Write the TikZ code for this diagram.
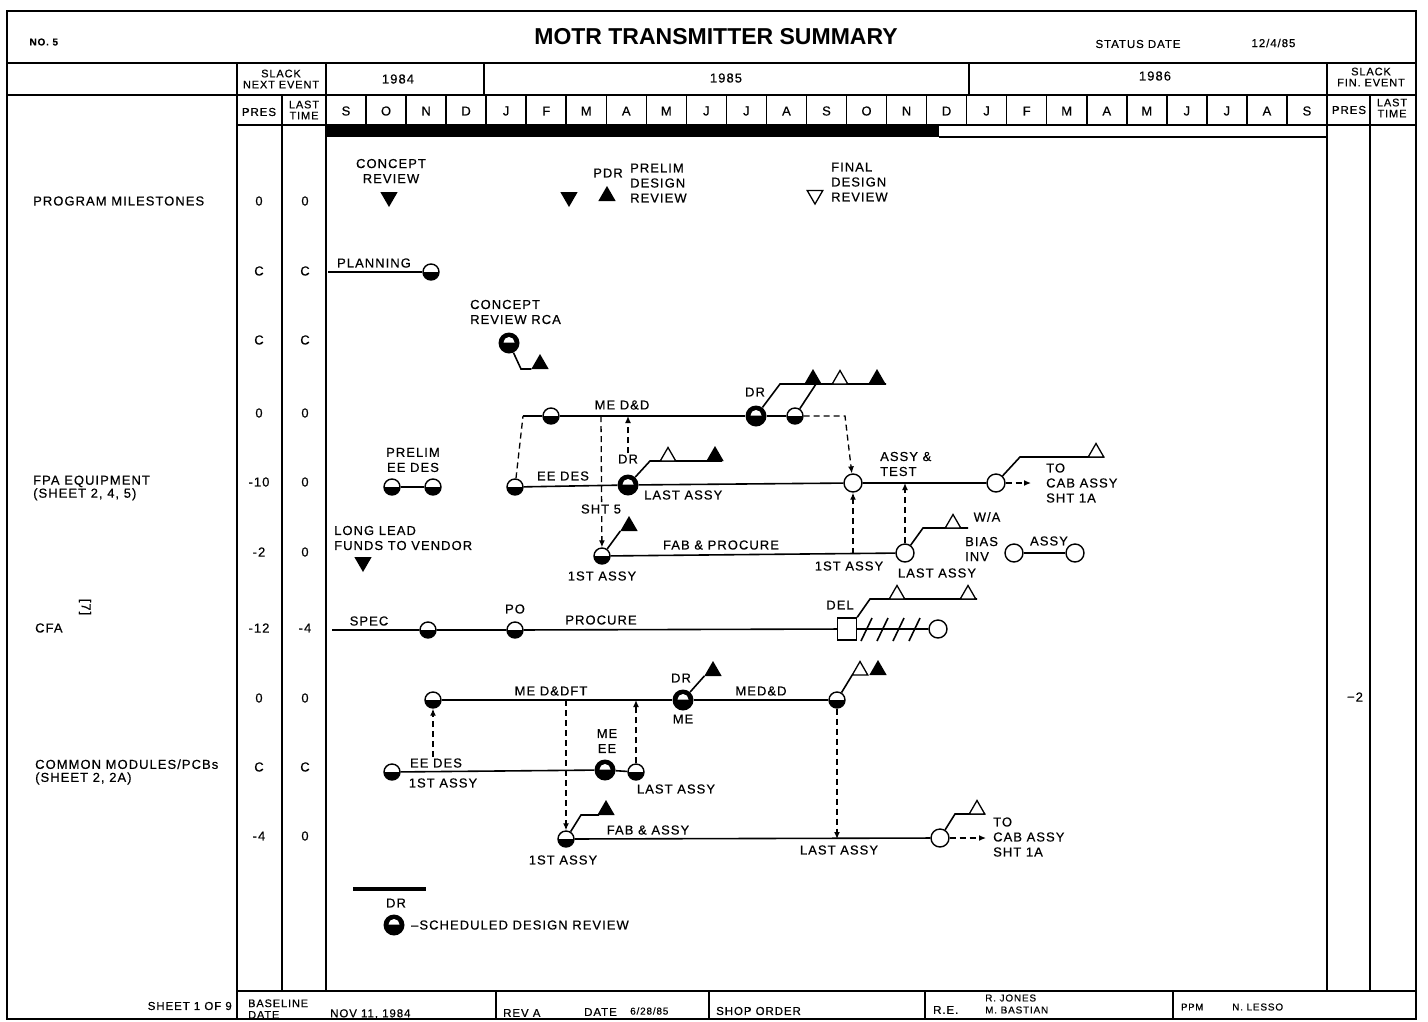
\documentclass[tikz,border=0pt]{standalone}
\usepackage{fontspec}
\setmainfont{Liberation Sans}[LetterSpace=8,FakeBold=0.5]
\newfontfamily\titlefont{Liberation Sans}
\usetikzlibrary{arrows.meta, shapes.geometric, positioning}
\newcommand\lbl{\fontsize{13}{15}\selectfont}
\newcommand\sml{\fontsize{11.5}{12.5}\selectfont}
\newcommand\hdr{\fontsize{11}{11}\selectfont}
\tikzset{
  % milestone symbols
  ms/.style={circle,draw,line width=1.4pt,fill=white,minimum size=16pt,inner sep=0pt,
    path picture={\fill[black] (path picture bounding box.west) rectangle (path picture bounding box.south east);}},
  evt/.style={circle,draw,line width=1.4pt,fill=white,minimum size=18pt,inner sep=0pt},
  dr/.style={circle,fill=black,minimum size=21pt,inner sep=0pt,
    path picture={\fill[white] ([xshift=-5.5pt,yshift=0.5pt]path picture bounding box.center)
      arc[start angle=180,end angle=0,radius=5.5pt] -- cycle;}},
  tri/.style={regular polygon,regular polygon sides=3,fill=black,minimum size=20pt,inner sep=0pt,outer sep=0pt},
  otri/.style={tri,draw,line width=1.3pt,fill=white,minimum size=18pt},
  dtri/.style={tri,shape border rotate=180},
  odtri/.style={otri,shape border rotate=180},
  sq/.style={draw,line width=1.4pt,fill=white,minimum width=19pt,minimum height=22pt,inner sep=0pt},
  % connectors
  link/.style={line width=1.6pt},
  dsh/.style={line width=1.3pt,dash pattern=on 6pt off 4pt},
  dep/.style={dsh,-{Latex[length=7pt,width=6pt]}},
  frame/.style={line width=1.5pt},
  lab/.style={inner sep=1pt},
  foot/.style={font=\sml,inner sep=1pt,anchor=west}
}

\begin{document}
\begin{tikzpicture}[x=1pt,y=-1pt,font=\lbl]
  \useasboundingbox (0,0) rectangle (1428,1021);

  % form
  \draw[frame] (7,11) rectangle (1416,1019);
  \draw[frame] (7,63) -- (1416,63);
  \draw[frame] (7,95) -- (1416,95);
  \draw[frame] (237,125) -- (1416,125);
  \draw[frame] (237,63) -- (237,1019);
  \draw[frame] (282,95) -- (282,991);
  \draw[frame] (326,63) -- (326,991);
  \draw[frame] (1327,63) -- (1327,991);
  \draw[frame] (1370,95) -- (1370,991);
  \draw[frame] (484,63) -- (484,95);
  \draw[frame] (969,63) -- (969,95);
  \foreach \i in {1,...,24}
    \draw[frame] ({326+40.04*\i},95) -- ({326+40.04*\i},125);
  \fill (326,125) rectangle (939,137);
  \draw[frame] (939,137) -- (1327,137);
  \draw[frame] (237,991) -- (1416,991);
  \foreach \x in {496,709,925,1173}
    \draw[frame] (\x,991) -- (\x,1019);

  % heading
  \node[anchor=west,font=\bfseries\fontsize{10}{11}\selectfont] (no) at (26,42) {NO. 5};
  \node[font=\titlefont\bfseries\fontsize{23}{25}\selectfont] (ttl) at (716,37) {MOTR TRANSMITTER SUMMARY};
  \node[anchor=west,font=\sml] (sdl) at (1092,44) {STATUS DATE};
  \node[anchor=west,font=\sml] (sdv) at (1248,43) {12/4/85};
  \node[lab,font=\hdr,align=center] (sne) at (281,79) {SLACK\\NEXT EVENT};
  \node[lab,font=\sml] (pres) at (259,112) {PRES};
  \node[lab,font=\hdr,align=center] (last) at (304,110) {LAST\\TIME};
  \node[lab,font=\hdr,align=center] (sfe) at (1371,77) {SLACK\\FIN. EVENT};
  \node[lab,font=\sml] (pres2) at (1349,110) {PRES};
  \node[lab,font=\hdr,align=center] (last2) at (1392,108) {LAST\\TIME};
  \node[lab] (y84) at (398,79) {1984};
  \node[lab] (y85) at (726,78) {1985};
  \node[lab] (y86) at (1155,76) {1986};
  \foreach \m [count=\i from 0] in {S,O,N,D,J,F,M,A,M,J,J,A,S,O,N,D,J,F,M,A,M,J,J,A,S}
    \node[lab] (m\i) at ({346+40.04*\i},111) {\m};

  % rows
  \node[lab,anchor=west] (pm) at (32,201) {PROGRAM MILESTONES};
  \node[lab,anchor=west,align=left] (fpa) at (32,488) {FPA EQUIPMENT\\[-2pt](SHEET 2, 4, 5)};
  \node[lab,anchor=west] (cfa) at (34,628) {CFA};
  \node[font=\lbl,rotate=-90] (cfam) at (85,607) {[7]};
  \node[lab,anchor=west,align=left] (cmp) at (34,772) {COMMON MODULES/PCBs\\[-2pt](SHEET 2, 2A)};
  \foreach \y/\p/\l [count=\k] in {201/0/0,271/C/C,340/C/C,413/0/0,482/-10/0,
      552/-2/0,628/-12/-4,698/0/0,767/C/C,836/-4/0} {
    \node[lab] (pr\k) at (259,\y) {\p};
    \node[lab] (lt\k) at (305,\y) {\l};
  }
  \node[lab] (fin) at (1355,697) {−2};

  % program milestones
  \node[dtri] (cr) at (389,197) {};
  \node[lab,align=center] (crl) at (391,171) {CONCEPT\\REVIEW};
  \node[dtri] (pdr1) at (569,197) {};
  \node[tri] (pdr2) at (607,196) {};
  \node[lab] (pdrl) at (608,173) {PDR};
  \node[lab,anchor=west,align=left] (pdrt) at (629,183) {PRELIM\\DESIGN\\REVIEW};
  \node[odtri] (fdr) at (815,195) {};
  \node[lab,anchor=west,align=left] (fdrt) at (830,182) {FINAL\\DESIGN\\REVIEW};

  % planning
  \coordinate (pl0) at (328,272);
  \node[ms] (pl) at (431,272) {};
  \draw[link] (pl0) -- (pl);
  \node[lab] (pll) at (374,263) {PLANNING};

  % concept review rca
  \node[dr] (crr) at (509,343) {};
  \node[tri,anchor=side 2] (crrt) at (540,369) {};
  \draw[link] (crr) -- (521,369) -- (crrt.corner 2);
  \node[lab,anchor=west,align=left] (crrl) at (469,312) {CONCEPT\\REVIEW RCA};

  % fpa equipment
  \coordinate (mdd0) at (523,416);
  \node[ms] (mdd1) at (551,416) {};
  \node[dr] (mdd2) at (756,416) {};
  \node[ms] (mdd3) at (795,416) {};
  \draw[link] (mdd0) -- (mdd1) -- (mdd2) -- (mdd3);
  \coordinate (drk) at (780,384);
  \coordinate (drk2) at (886,384);
  \draw[link] (mdd2) -- (drk) -- (drk2);
  \draw[link] (mdd3) -- (816,384);
  \node[tri,anchor=side 2] (t41) at (813,384) {};
  \node[otri,anchor=side 2] (t42) at (840,384) {};
  \node[tri,anchor=side 2] (t43) at (877,384) {};
  \node[lab] (mddl) at (622,405) {ME D\&D};
  \node[lab] (mdrl) at (755,392) {DR};

  \node[ms] (pe1) at (392,487) {};
  \node[ms] (pe2) at (433,487) {};
  \draw[link] (pe1) -- (pe2);
  \node[lab,align=center] (pel) at (413,460) {PRELIM\\EE DES};

  \node[ms] (ee0) at (515,487) {};
  \node[dr] (eedr) at (628,485) {};
  \node[evt] (as) at (853,483) {};
  \node[evt] (cab) at (996,483) {};
  \draw[link] (ee0) -- (eedr) -- (as) -- (cab);
  \draw[link] (eedr) -- (650,461) -- (722,461);
  \node[otri,anchor=side 2] (t51) at (668,461) {};
  \node[tri,anchor=side 2] (t52) at (715,461) {};
  \draw[link] (cab) -- (1020,457) -- (1104,457);
  \node[otri,anchor=side 2] (t53) at (1096,457) {};
  \coordinate (cabx) at (1031,483);
  \draw[dep] (cab) -- (cabx);
  \node[lab] (eel) at (563,476) {EE DES};
  \node[lab] (edrl) at (628,459) {DR};
  \node[lab,anchor=west] (lal) at (643,495) {LAST ASSY};
  \node[lab,anchor=west,align=left] (atl) at (879,464) {ASSY \&\\TEST};
  \node[lab,anchor=west,align=left] (cabl) at (1045,483) {TO\\CAB ASSY\\SHT 1A};

  \node[dtri] (ll) at (363,562) {};
  \node[lab,anchor=west,align=left] (lll) at (333,538) {LONG LEAD\\FUNDS TO VENDOR};

  \node[ms] (fp0) at (602,556) {};
  \coordinate (fa1) at (853,554);
  \node[evt] (la) at (905,553) {};
  \draw[link] (fp0) -- (la);
  \node[tri,anchor=side 2] (fpt) at (629,531) {};
  \draw[link] (fp0) -- (fpt.corner 2);
  \draw[link] (la) -- (923,528) -- (968,528);
  \node[otri,anchor=side 2] (t61) at (953,528) {};
  \node[evt] (bi1) at (1014,553) {};
  \node[evt] (bi2) at (1075,553) {};
  \draw[link] (bi1) -- (bi2);

  % dependencies
  \coordinate (shtx) at (601,416);
  \draw[dsh] (ee0) -- (mdd0);
  \draw[dep] (shtx) -- (fp0);
  \draw[dep] (edrl.north) -- (edrl.north |- mdd0);
  \draw[dep] (mdd3) -- (845,416) -- (as);
  \draw[dep] (fa1) -- (as);
  \draw[dep] (la) -- (la |- as);

  \node[lab,fill=white] (shl) at (601,509) {SHT 5};
  \node[lab] (f1l) at (602,576) {1ST ASSY};
  \node[lab] (fpl) at (721,545) {FAB \& PROCURE};
  \node[lab] (f2l) at (849,566) {1ST ASSY};
  \node[lab] (f3l) at (937,573) {LAST ASSY};
  \node[lab] (wal) at (987,517) {W/A};
  \node[lab,anchor=west,align=left] (bil) at (964,549) {BIAS\\INV};
  \node[lab] (bal) at (1049,541) {ASSY};

  % cfa
  \coordinate (sp0) at (332,630);
  \node[ms] (sp1) at (428,630) {};
  \node[ms] (po) at (515,630) {};
  \node[sq] (del) at (847,629) {};
  \node[evt] (cf) at (938,629) {};
  \draw[link] (sp0) -- (sp1) -- (po) -- (del) -- (cf);
  \draw[link] (del.north east) -- (870,599) -- (977,599);
  \node[otri,anchor=side 2] (t71) at (897,599) {};
  \node[otri,anchor=side 2] (t72) at (968,599) {};
  \foreach \x in {866,882,898,914}
    \draw[link] ({\x-5},641) -- ({\x+6},618);
  \node[lab] (spl) at (369,621) {SPEC};
  \node[lab] (pol) at (515,609) {PO};
  \node[lab] (prl) at (601,620) {PROCURE};
  \node[lab] (dell) at (840,605) {DEL};

  % common modules
  \node[ms] (md0) at (433,700) {};
  \node[dr] (mddr) at (683,700) {};
  \node[ms] (md1) at (837,700) {};
  \draw[link] (md0) -- (mddr) -- (md1);
  \node[tri,anchor=side 2] (t81) at (713,676) {};
  \draw[link] (mddr) -- (t81.corner 2);
  \node[otri,anchor=side 2] (t82) at (860,675) {};
  \node[tri,anchor=side 2] (t83) at (878,675) {};
  \draw[link] (md1) -- (t82.corner 2);
  \node[lab] (mdfl) at (551,691) {ME D\&DFT};
  \node[lab] (mdrl2) at (681,678) {DR};
  \node[lab] (mel) at (683,719) {ME};
  \node[lab] (medl) at (761,691) {MED\&D};

  \node[ms] (ce0) at (392,772) {};
  \node[dr] (cedr) at (605,770) {};
  \node[ms] (ml) at (636,772) {};
  \draw[link] (ce0) -- (cedr) -- (ml);
  \node[lab] (cel) at (436,763) {EE DES};
  \node[lab] (c1l) at (443,783) {1ST ASSY};
  \node[lab,align=center] (meel) at (607,741) {ME\\EE};
  \node[lab] (cll) at (676,789) {LAST ASSY};

  \node[ms] (fa0) at (566,839) {};
  \node[evt] (fa2) at (940,838) {};
  \draw[link] (fa0) -- (fa2);
  \draw[link] (fa0) -- (581,815) -- (599,815);
  \node[tri,anchor=side 2] (t91) at (606,815) {};
  \draw[link] (fa2) -- (955,814) -- (985,814);
  \node[otri,anchor=side 2] (t92) at (977,814) {};
  \coordinate (fax) at (986,838);
  \draw[dep] (fa2) -- (fax);
  \node[lab] (a1l) at (563,860) {1ST ASSY};
  \node[lab] (fal) at (648,830) {FAB \& ASSY};
  \node[lab] (a2l) at (839,850) {LAST ASSY};
  \node[lab,anchor=west,align=left] (cab2l) at (992,837) {TO\\CAB ASSY\\SHT 1A};

  \draw[dep] (md0 |- cel.north) -- (md0);
  \draw[dep] (566,700) -- (fa0);
  \draw[dep] (ml) -- (ml |- md0);
  \draw[dep] (md1) -- (md1 |- fa0);

  % legend
  \coordinate (lg0) at (353,889);
  \coordinate (lg1) at (426,889);
  \draw[line width=4pt] (lg0) -- (lg1);
  \node[lab] (lgl) at (396,903) {DR};
  \node[dr] (lg) at (394,925) {};
  \node[lab,anchor=west] (lgt) at (410,925) {–SCHEDULED DESIGN REVIEW};

  % footer
  \node[foot,anchor=east] (sht) at (233,1006) {SHEET 1 OF 9};
  \node[foot,align=left,font=\fontsize{11}{11.5}\selectfont] (bld) at (247,1009) {BASELINE\\DATE};
  \node[foot] (bldv) at (329,1014) {NOV 11, 1984};
  \node[foot] (rev) at (502,1013) {REV A};
  \node[foot] (dte) at (583,1012) {DATE};
  \node[foot,font=\fontsize{10}{11}\selectfont] (dtev) at (629,1011) {6/28/85};
  \node[foot] (sho) at (715,1011) {SHOP ORDER};
  \node[foot] (re) at (932,1010) {R.E.};
  \node[foot,font=\fontsize{10}{11}\selectfont] (re1) at (984,998) {R. JONES};
  \node[foot,font=\fontsize{10}{11}\selectfont] (re2) at (984,1010) {M. BASTIAN};
  \node[foot,font=\fontsize{9.5}{11}\selectfont] (ppm) at (1180,1007) {PPM};
  \node[foot,font=\fontsize{10}{11}\selectfont] (ppmv) at (1231,1007) {N. LESSO};
\end{tikzpicture}
\end{document}
